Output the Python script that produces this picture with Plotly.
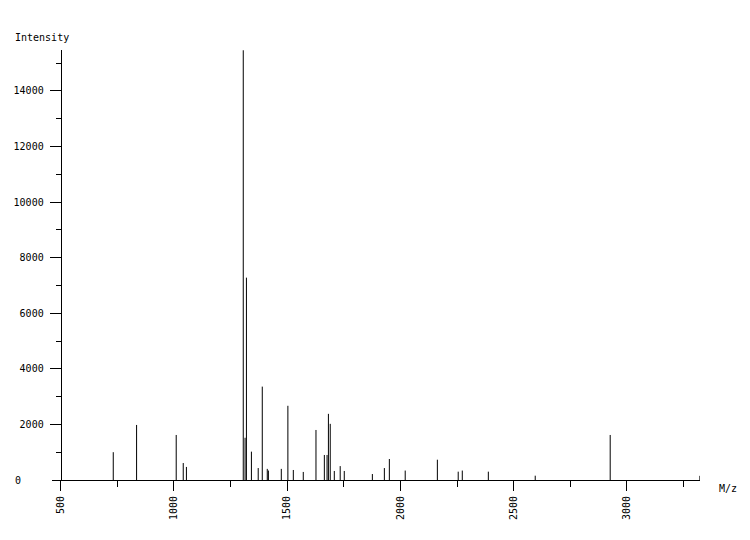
import plotly.graph_objects as go

# =========================
# DATA
# =========================

mz = [732, 835, 1010, 1041, 1055, 1306, 1314, 1320, 1342, 1372,
      1390, 1412, 1417, 1474, 1503, 1527, 1571, 1627, 1664, 1676,
      1682, 1690, 1708, 1734, 1752, 1876, 1929, 1951, 2021, 2163,
      2255, 2273, 2388, 2595, 2926, 3322]

intensity = [1000, 1980, 1620, 610, 470, 15460, 1520, 7280, 1020, 430,
             3360, 400, 340, 400, 2670, 360, 290, 1800, 900, 900,
             2380, 2020, 325, 500, 325, 215, 430, 755, 340, 730,
             300, 340, 300, 155, 1620, 150]

x_ticks = [500, 1000, 1500, 2000, 2500, 3000]
x_minor = [750, 1250, 1750, 2250, 2750, 3250]
y_ticks = [2000, 4000, 6000, 8000, 10000, 12000, 14000]
y_minor = [1000, 3000, 5000, 7000, 9000, 11000, 13000, 15000]

# =========================
# STICKS
# =========================

xs, ys = [], []
for m, v in zip(mz, intensity):
    xs += [m, m, None]
    ys += [0, v, None]

fig = go.Figure()

fig.add_trace(
    go.Scatter(
        x=xs,
        y=ys,
        mode="lines",
        line=dict(color="black", width=1),
        showlegend=False,
        hoverinfo="skip"
    )
)

font = dict(family="DejaVu Sans Mono", size=10, color="black")

# =========================
# AXES
# =========================

fig.update_xaxes(
    range=[461.6, 3322.5],
    automargin=False,
    showgrid=False,
    zeroline=False,
    showline=True,
    linecolor="black",
    linewidth=1,
    ticks="outside",
    ticklen=10,
    tickcolor="black",
    tickmode="array",
    tickvals=x_ticks,
    ticktext=[("\u00a0" + str(t)) if t < 1000 else str(t) for t in x_ticks],
    tickangle=-90,
    tickfont=font,
    ticklabelstandoff=1,
    minor=dict(tickmode="array", tickvals=x_minor, ticks="outside",
               ticklen=6, tickcolor="black")
)

fig.update_yaxes(
    range=[0, 15470],
    automargin=False,
    anchor="free",
    position=8.7 / 648,
    showgrid=False,
    zeroline=False,
    showline=True,
    linecolor="black",
    linewidth=1,
    ticks="outside",
    ticklen=11,
    tickcolor="black",
    tickmode="array",
    tickvals=y_ticks,
    ticktext=[str(t) for t in y_ticks],
    tickfont=font,
    ticklabelstandoff=4,
    minor=dict(tickmode="array", tickvals=y_minor, ticks="outside",
               ticklen=5, tickcolor="black")
)

# =========================
# LABELS
# =========================

fig.add_annotation(text="Intensity", xref="paper", yref="paper",
                   x=-39 / 648, y=(480 - 37) / 430, xanchor="left",
                   yanchor="middle", showarrow=False, font=font)

fig.add_annotation(text="0", xref="paper", yref="y",
                   x=-39 / 648, y=0, xanchor="left",
                   yanchor="middle", showarrow=False, font=font)

fig.add_annotation(text="M/z", xref="paper", yref="paper",
                   x=665 / 648, y=-8 / 430, xanchor="left",
                   yanchor="middle", showarrow=False, font=font)

# =========================
# LAYOUT
# =========================

# page body adds 8px, so the figure is 8px smaller each way
fig.update_layout(
    width=742,
    height=532,
    plot_bgcolor="white",
    paper_bgcolor="white",
    margin=dict(l=44, r=50, t=42, b=60),
    font=font
)

fig.write_html("out.html")
